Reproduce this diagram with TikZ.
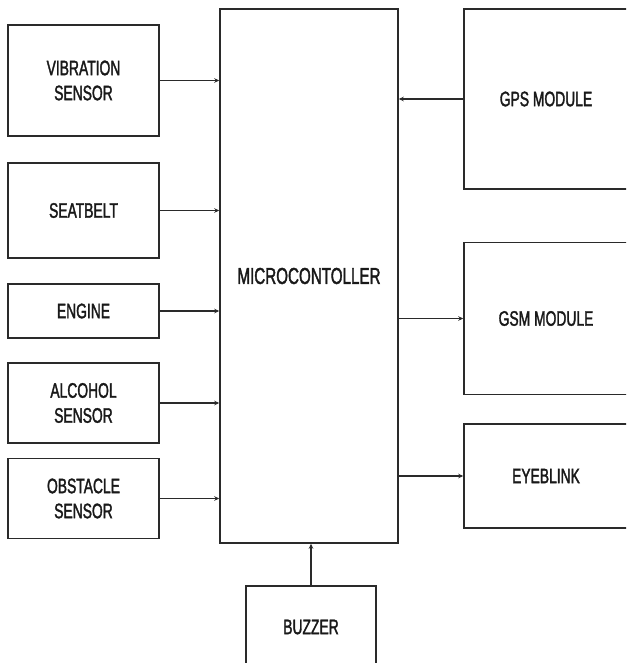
\documentclass[tikz,border=0pt]{standalone}
\usepackage{fontspec}
\setmainfont{Liberation Sans}[FakeStretch=0.66,FakeBold=1.6]
\usetikzlibrary{arrows.meta}
\definecolor{linecol}{HTML}{2A2A2A}
\begin{document}
\begin{tikzpicture}[x=1pt,y=-1pt,
  blk/.style={draw=linecol,line width=1.5pt,inner sep=0pt,align=center,
     font=\fontsize{21}{25}\selectfont,text=black!90},
  conn/.style={draw=linecol,line width=1.2pt,-{Stealth[length=5pt,width=4.5pt]}}]
\useasboundingbox (0,0) rectangle (626,663);
\clip (0,0) rectangle (626,663);
\fill[white] (0,0) rectangle (626,663);
% left column
\node[blk,minimum width=151pt,minimum height=111pt] (vib) at (83.5,80.5) {VIBRATION\\SENSOR};
\node[blk,minimum width=151pt,minimum height=95pt] (seat) at (83.5,210.5) {SEATBELT};
\node[blk,minimum width=151pt,minimum height=54pt] (eng) at (83.5,311) {ENGINE};
\node[blk,minimum width=151pt,minimum height=80pt] (alc) at (83.5,403) {ALCOHOL\\SENSOR};
\node[blk,minimum width=151pt,minimum height=80pt] (obs) at (83.5,498.5) {OBSTACLE\\SENSOR};
% centre
\node[blk,minimum width=178pt,minimum height=534pt] (mc) at (309,276) {};
\node[font=\fontsize{23}{27}\selectfont,text=black!90,inner sep=0pt] (mctext) at (309,276) {MICROCONTOLLER};
% right column
\node[blk,minimum width=164pt,minimum height=180pt] (gps) at (546,99) {GPS MODULE};
\node[blk,minimum width=164pt,minimum height=152pt] (gsm) at (546,318.5) {GSM MODULE};
\node[blk,minimum width=164pt,minimum height=104pt] (eye) at (546,476) {EYEBLINK};
% bottom
\node[blk,minimum width=130pt,minimum height=82pt] (buz) at (311,627) {BUZZER};
% connectors
\draw[conn] (vib.east) -- (vib.east -| mc.west);
\draw[conn] (seat.east) -- (seat.east -| mc.west);
\draw[conn] (eng.east) -- (eng.east -| mc.west);
\draw[conn] (alc.east) -- (alc.east -| mc.west);
\draw[conn] (obs.east) -- (obs.east -| mc.west);
\draw[conn] (gps.west) -- (gps.west -| mc.east);
\draw[conn] (gsm.west -| mc.east) -- (gsm.west);
\draw[conn] (eye.west -| mc.east) -- (eye.west);
\draw[conn] (buz.north) -- (buz.north |- mc.south);
\end{tikzpicture}
\end{document}
